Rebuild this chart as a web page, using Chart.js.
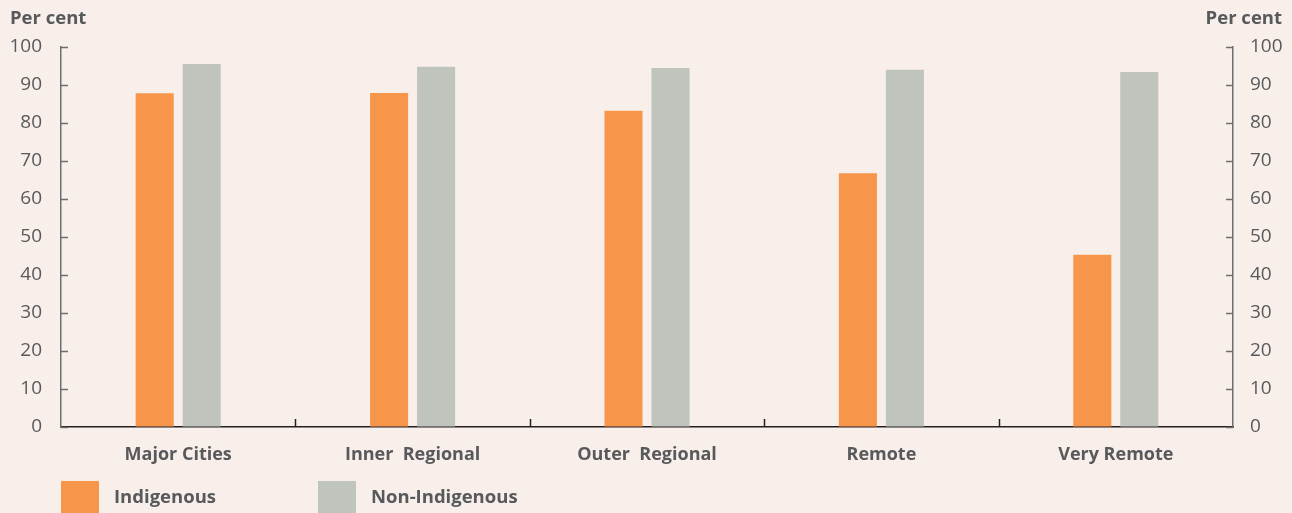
<!DOCTYPE html>
<html>
<head>
<meta charset="utf-8">
<script src="https://cdn.jsdelivr.net/npm/chart.js@4.4.1/dist/chart.umd.min.js"></script>
<style>
  html, body { margin: 0; padding: 0; background: #f8efeb; }
  #wrap { width: 1292px; height: 513px; position: relative; }
</style>
</head>
<body>
<div id="wrap"><canvas id="chart" width="1292" height="513"></canvas></div>
<script>
const categories = ['Major Cities', 'Inner  Regional', 'Outer  Regional', 'Remote', 'Very Remote'];
const indigenous = [87.8, 87.9, 83.2, 66.8, 45.3];
const nonIndigenous = [95.5, 94.8, 94.5, 94.0, 93.4];
const yTicks = [0, 10, 20, 30, 40, 50, 60, 70, 80, 90, 100];

const textColor = '#58595b';
const fontFamily = '"Open Sans", sans-serif';

// inward ticks, axis titles and the legend
const extras = {
  id: 'extras',
  afterDraw(chart) {
    const ctx = chart.ctx;
    const area = chart.chartArea;
    const y = chart.scales.y, x = chart.scales.x;
    ctx.save();
    ctx.lineWidth = 1.5;
    ctx.strokeStyle = '#6d6e70';
    yTicks.forEach(v => {
      const py = Math.round(y.getPixelForValue(v)) + 0.5;
      ctx.beginPath();
      ctx.moveTo(area.left, py); ctx.lineTo(area.left + 7, py);
      ctx.moveTo(area.right, py); ctx.lineTo(area.right - 7, py);
      ctx.stroke();
    });
    ctx.strokeStyle = '#231f20';
    for (let i = 1; i < categories.length; i++) {
      const px = Math.round((x.getPixelForTick(i - 1) + x.getPixelForTick(i)) / 2) + 0.5;
      ctx.beginPath();
      ctx.moveTo(px, area.bottom); ctx.lineTo(px, area.bottom - 8);
      ctx.stroke();
    }
    // titles
    ctx.fillStyle = textColor;
    ctx.font = 'bold 18.5px ' + fontFamily;
    ctx.textBaseline = 'middle';
    ctx.textAlign = 'left';
    ctx.fillText('Per cent', 10, 19);
    ctx.textAlign = 'right';
    ctx.fillText('Per cent', 1282, 19);
    // legend
    const items = [[61, 0], [318, 1]];
    ctx.textAlign = 'left';
    ctx.font = 'bold 18.5px ' + fontFamily;
    items.forEach(([lx, di]) => {
      const ds = chart.data.datasets[di];
      ctx.fillStyle = ds.backgroundColor;
      ctx.fillRect(lx, 481, 38, 40);
      ctx.fillStyle = textColor;
      ctx.fillText(ds.label, lx + 53, 498);
    });
    ctx.restore();
  }
};

new Chart(document.getElementById('chart'), {
  type: 'bar',
  data: {
    labels: categories,
    datasets: [
      { label: 'Indigenous', data: indigenous, backgroundColor: '#f7964a', yAxisID: 'y' },
      { label: 'Non-Indigenous', data: nonIndigenous, backgroundColor: '#bfc4bd', yAxisID: 'y' }
    ]
  },
  options: {
    responsive: false,
    animation: false,
    devicePixelRatio: 1,
    layout: { padding: { top: 47, left: 0, right: 0, bottom: 0 } },
    categoryPercentage: 0.401,
    barPercentage: 0.81,
    plugins: { legend: { display: false }, tooltip: { enabled: false } },
    scales: {
      x: {
        grid: { display: false },
        border: { color: '#231f20', width: 1.5 },
        ticks: { color: textColor, font: { family: fontFamily, size: 18, weight: 'bold' }, padding: 9 },
        afterFit(s) { s.height = 86; }
      },
      y: {
        position: 'left',
        min: 0, max: 100,
        afterBuildTicks(s) { s.ticks = yTicks.map(v => ({ value: v })); },
        grid: { drawOnChartArea: false, drawTicks: false },
        border: { color: '#6d6e70', width: 1.5 },
        ticks: { color: textColor, font: { family: fontFamily, size: 19 }, padding: 19 },
        afterFit(s) { s.width = 61; }
      },
      y2: {
        position: 'right',
        min: 0, max: 100,
        afterBuildTicks(s) { s.ticks = yTicks.map(v => ({ value: v })); },
        grid: { drawOnChartArea: false, drawTicks: false },
        border: { color: '#6d6e70', width: 1.5 },
        ticks: { color: textColor, font: { family: fontFamily, size: 19 }, padding: 17 },
        afterFit(s) { s.width = 59; }
      }
    }
  },
  plugins: [extras]
});
</script>
</body>
</html>
